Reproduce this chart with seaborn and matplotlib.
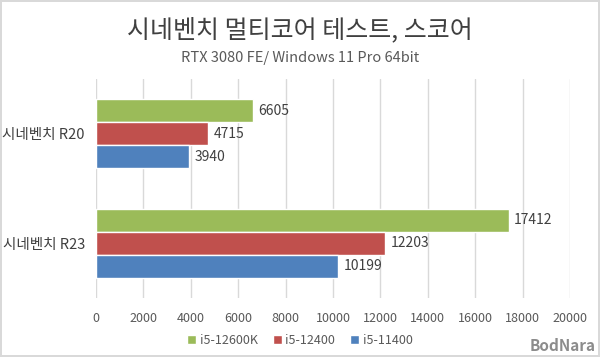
import matplotlib
matplotlib.use('Agg')
import matplotlib.pyplot as plt
import seaborn as sns
import pandas as pd

# 데이터
categories = ['시네벤치 R20', '시네벤치 R23']
cpus = ['i5-12600K', 'i5-12400', 'i5-11400']
score_12600k = [6605, 17412]
score_12400 = [4715, 12203]
score_11400 = [3940, 10199]
colors = ['#9BBB59', '#C0504D', '#4F81BD']
xticks = list(range(0, 20001, 2000))

rows = []
for cpu, vals in zip(cpus, [score_12600k, score_12400, score_11400]):
    for cat, v in zip(categories, vals):
        rows.append({'bench': cat, 'cpu': cpu, 'score': v})
df = pd.DataFrame(rows)

sns.set_theme(style='white')
plt.rcParams['font.family'] = ['Noto Sans CJK KR', 'DejaVu Sans']

fig = plt.figure(figsize=(6, 3.57), dpi=100)
fig.patch.set_edgecolor('#d9d9d9')
fig.patch.set_linewidth(1.5)
ax = fig.add_axes([0.16, 0.165, 0.79, 0.614])

sns.barplot(data=df, x='score', y='bench', hue='cpu', hue_order=cpus,
            palette=colors, orient='h', width=0.63, gap=0, ax=ax,
            legend=True, saturation=1)

for c in ax.containers:
    ax.bar_label(c, padding=4, fontsize=10, color='#404040')

ax.set_xlim(0, 20000)
ax.set_xticks(xticks)
ax.set_xticklabels([str(t) for t in xticks], fontsize=9, color='#595959')
ax.tick_params(axis='y', labelsize=10.5, labelcolor='#404040', length=0, pad=8)
ax.tick_params(axis='x', length=0, pad=10)
ax.grid(axis='x', color='#d9d9d9', linewidth=1)
ax.set_axisbelow(True)
for s in ax.spines.values():
    s.set_visible(False)
ax.set_xlabel('')
ax.set_ylabel('')

handles, labels = ax.get_legend_handles_labels()
ax.get_legend().remove()
fig.legend(handles, labels, loc='center', bbox_to_anchor=(0.5, 0.047), ncol=3,
           frameon=False, fontsize=9, handlelength=0.7, handleheight=0.7,
           handletextpad=0.3, columnspacing=1.2, labelcolor='#595959')

fig.text(0.5, 0.915, '시네벤치 멀티코어 테스트, 스코어', ha='center', va='center',
         fontsize=18, color='#404040')
fig.text(0.5, 0.838, 'RTX 3080 FE/ Windows 11 Pro 64bit', ha='center', va='center',
         fontsize=10.5, color='#595959')
fig.text(0.993, 0.03, 'BodNara', ha='right', va='center', fontsize=11,
         fontweight='bold', color='#8c8c8c')

fig.savefig('out.png', dpi=100, edgecolor=fig.get_edgecolor())
